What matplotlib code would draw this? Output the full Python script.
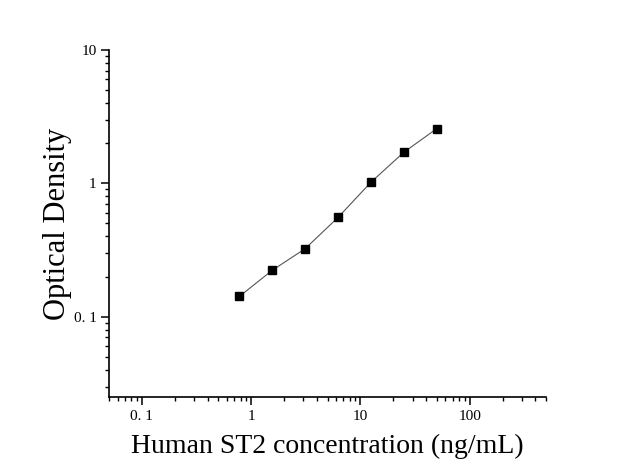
import matplotlib
matplotlib.use("Agg")
import matplotlib.pyplot as plt
from matplotlib.ticker import FixedLocator, FixedFormatter, LogLocator, NullFormatter

# standard curve data
conc = [0.78, 1.56, 3.125, 6.25, 12.5, 25, 50]
od = [0.142, 0.223, 0.324, 0.556, 1.02, 1.71, 2.57]

x_ticks = [0.1, 1, 10, 100]
x_tick_labels = ['0. 1', '1', '10', '100']
y_ticks = [0.1, 1, 10]
y_tick_labels = ['0. 1', '1', '10']

plt.rcParams['font.family'] = ['Liberation Serif', 'DejaVu Serif']

fig = plt.figure(figsize=(6.32, 4.75), dpi=100)
ax = fig.add_axes([0.1725, 0.164, 0.6915, 0.731])

ax.plot(conc, od, color='#555555', lw=0.8, zorder=1)
ax.plot(conc, od, 's', color='black', ms=6, zorder=2)

ax.set_xscale('log')
ax.set_yscale('log')
ax.set_xlim(0.05, 500)
ax.set_ylim(0.025, 10)

ax.xaxis.set_major_locator(FixedLocator(x_ticks))
ax.xaxis.set_major_formatter(FixedFormatter(x_tick_labels))
ax.yaxis.set_major_locator(FixedLocator(y_ticks))
ax.yaxis.set_major_formatter(FixedFormatter(y_tick_labels))
ax.xaxis.set_minor_locator(LogLocator(base=10, subs=range(2, 10), numticks=20))
ax.yaxis.set_minor_locator(LogLocator(base=10, subs=range(2, 10), numticks=20))
ax.xaxis.set_minor_formatter(NullFormatter())
ax.yaxis.set_minor_formatter(NullFormatter())

for s in ['top', 'right']:
    ax.spines[s].set_visible(False)
for s in ['left', 'bottom']:
    ax.spines[s].set_linewidth(1.2)

ax.tick_params(which='major', direction='out', length=6, width=1.1, labelsize=11, pad=3)
ax.tick_params(which='minor', direction='out', length=3, width=1.0)

ax.set_xlabel('Human ST2 concentration (ng/mL)', fontsize=20, labelpad=8)
ax.set_ylabel('Optical Density', fontsize=22, labelpad=1)

fig.savefig('out.png', dpi=100)
